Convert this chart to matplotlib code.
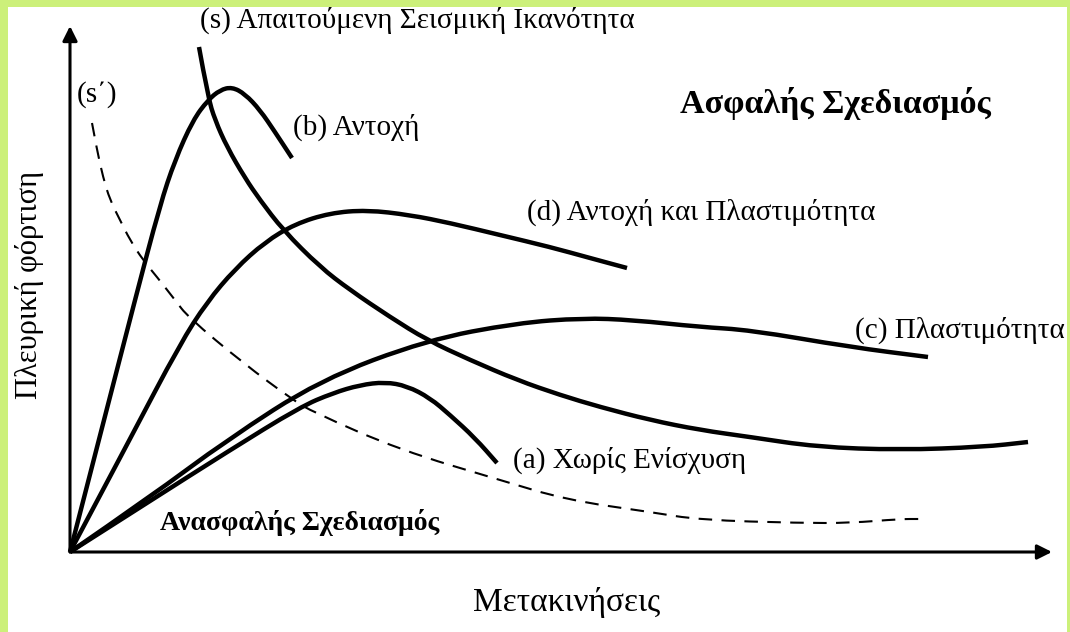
import matplotlib.pyplot as plt
from matplotlib.path import Path
from matplotlib.patches import PathPatch

plt.rcParams['font.family'] = ['Liberation Serif', 'DejaVu Serif']

# curves: x = displacement, y = lateral load (pixel units from origin)
a_x = [0, 80, 157, 230, 263, 290, 315, 337, 360, 380, 405, 427]
a_y = [0, 51, 100, 145, 159, 167, 170, 166, 154, 137, 114, 89]

b_x = [0, 34, 65, 90, 105, 123, 138, 150, 162, 175, 190, 205, 222]
b_y = [0, 132, 252, 347, 392, 432, 452, 462, 465, 458, 442, 420, 394]

c_x = [0, 80, 157, 250, 357, 447, 513, 563, 630, 680, 780, 858]
c_y = [0, 55, 112, 172, 212, 229, 234, 232, 225, 222, 205, 195]

d_x = [0, 60, 110, 137, 165, 195, 225, 260, 297, 340, 380, 430, 480, 520, 557]
d_y = [0, 113, 208, 250, 283, 310, 328, 339, 342, 337, 329, 317, 305, 294, 284]

s_x = [129, 138, 145, 157, 175, 190, 213, 250, 280, 320, 357, 400, 447, 490, 530,
       580, 630, 680, 747, 830, 913, 958]
s_y = [505, 455, 432, 405, 374, 352, 322, 285, 262, 235, 212, 192, 172, 157, 145,
       132, 122, 115, 105, 102, 105, 110]

sp_x = [22, 27, 33, 40, 50, 60, 73, 87, 105, 118, 173, 223, 243, 330, 430, 497,
        580, 630, 730, 780, 830, 850]
sp_y = [429, 402, 375, 352, 332, 312, 292, 275, 252, 235, 189, 152, 140, 102, 72, 52,
        40, 32, 29, 29, 33, 33]


def smooth(xs, ys):
    # quadratic bezier through midpoints, read points act as control points
    verts = [(xs[0], ys[0])]
    codes = [Path.MOVETO]
    for i in range(1, len(xs) - 1):
        verts += [(xs[i], ys[i]), ((xs[i] + xs[i + 1]) / 2, (ys[i] + ys[i + 1]) / 2)]
        codes += [Path.CURVE3, Path.CURVE3]
    verts.append((xs[-1], ys[-1]))
    codes.append(Path.LINETO)
    return Path(verts, codes)


fig = plt.figure(figsize=(10.7, 6.32), dpi=100, facecolor='#ccf07a')
ax = fig.add_axes([8 / 1070, 0, 1059 / 1070, 625 / 632])
ax.set_facecolor('white')
ax.set_xlim(-62, 997)
ax.set_ylim(-80, 545)
ax.set_xticks([])
ax.set_yticks([])
for sp in ax.spines.values():
    sp.set_visible(False)

# axes with arrows
arrow = dict(arrowstyle='-|>', color='black', lw=2.2, mutation_scale=22,
             shrinkA=0, shrinkB=0)
ax.annotate('', xy=(0, 526), xytext=(0, 0), arrowprops=arrow)
ax.annotate('', xy=(982, 0), xytext=(0, 0), arrowprops=arrow)

for xs, ys in [(a_x, a_y), (b_x, b_y), (c_x, c_y), (d_x, d_y), (s_x, s_y)]:
    ax.add_patch(PathPatch(smooth(xs, ys), fill=False, edgecolor='black', lw=3.2,
                           joinstyle='round', capstyle='butt'))
ax.add_patch(PathPatch(smooth(sp_x, sp_y), fill=False, edgecolor='black', lw=1.5,
                       linestyle=(0, (6.5, 4.5))))

fs = 21
ax.text(130, 532, '(s) Απαιτούμενη Σεισμική Ικανότητα', fontsize=fs, va='center')
ax.text(7, 457, '(s΄)', fontsize=fs, va='center')
ax.text(223, 425, '(b) Αντοχή', fontsize=fs, va='center')
ax.text(457, 340, '(d) Αντοχή και Πλαστιμότητα', fontsize=fs, va='center')
ax.text(785, 222, '(c) Πλαστιμότητα', fontsize=fs, va='center')
ax.text(443, 92, '(a) Χωρίς Ενίσχυση', fontsize=fs, va='center')
ax.text(610, 449, 'Ασφαλής Σχεδιασμός', fontsize=24.5, fontweight='bold', va='center')
ax.text(90, 30, 'Ανασφαλής Σχεδιασμός', fontsize=20, fontweight='bold', va='center')
ax.text(497, -50, 'Μετακινήσεις', fontsize=24, ha='center', va='center')
ax.text(-40, 267, 'Πλευρική φόρτιση', fontsize=22, ha='center', va='center',
        rotation=90)

fig.savefig('out.png', dpi=100, facecolor=fig.get_facecolor())
